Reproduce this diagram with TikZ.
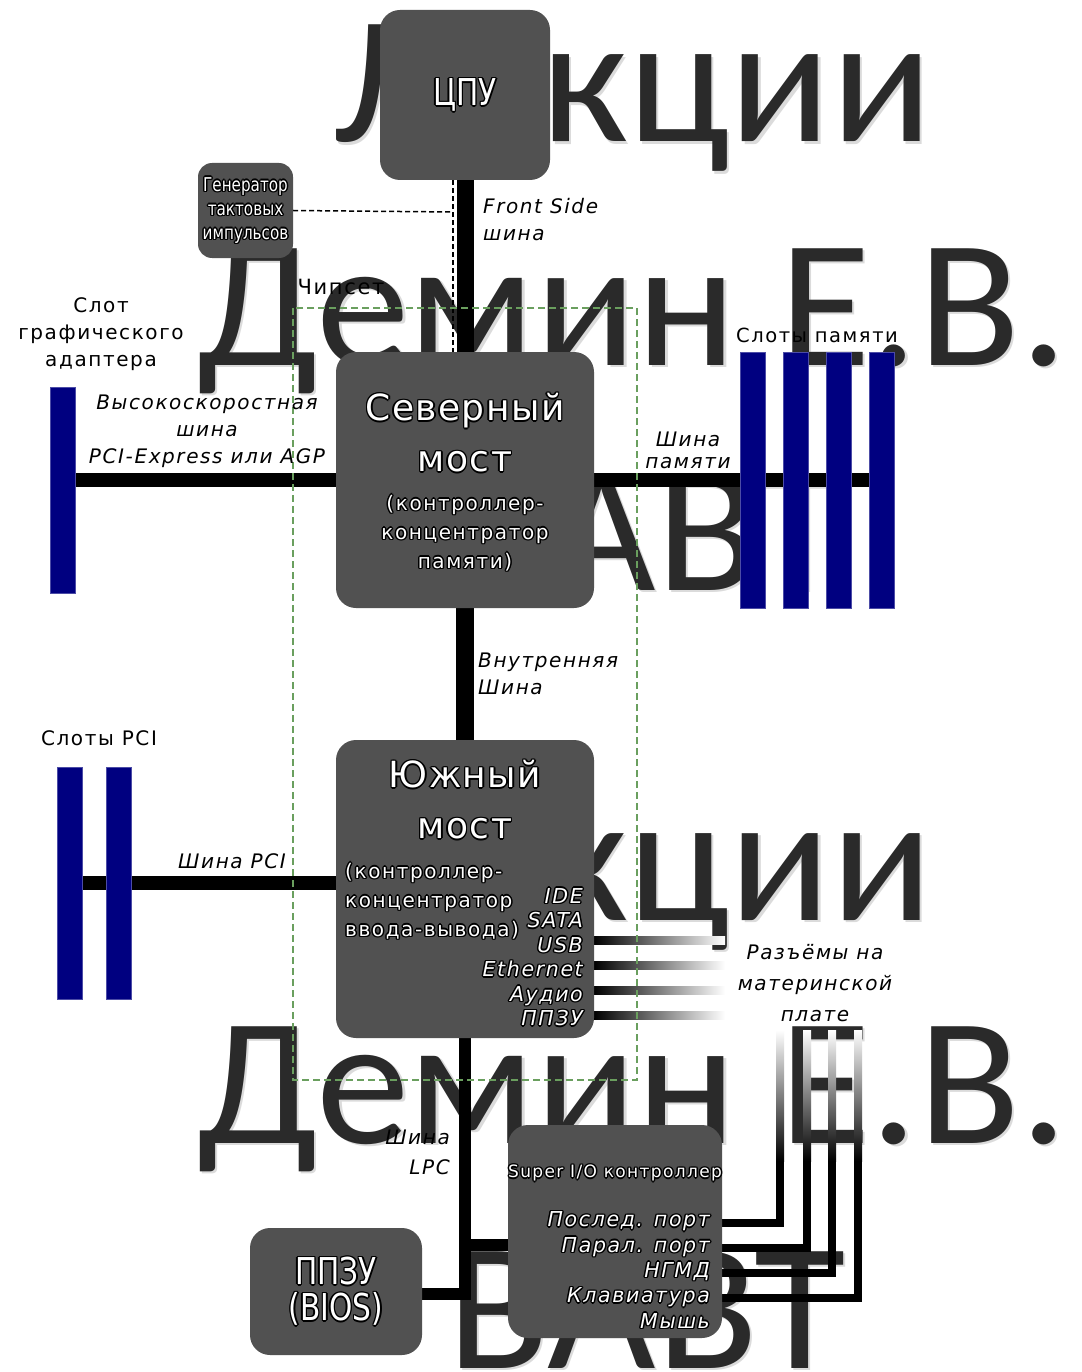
\documentclass[tikz,border=0pt]{standalone}
\usepackage{fontspec}
\setmainfont{DejaVu Sans}[LetterSpace=8]
\newfontfamily\titlefont{DejaVu Sans}[LetterSpace=4]
\newfontfamily\narrowfont{DejaVu Sans}[FakeStretch=0.8]
\newfontfamily\wmfont{Carlito}[FakeStretch=1.03]
\definecolor{boxgray}{HTML}{515151}
\definecolor{slotblue}{HTML}{000080}
\definecolor{chipgreen}{HTML}{6A9F5E}
\definecolor{wmgray}{HTML}{2A2A2A}
\pgfdeclarelayer{wmlayer}
\pgfdeclarelayer{buslayer}
\pgfsetlayers{wmlayer,buslayer,main}

% white lettering with a dark halo round it
\newcommand\halotext[3]{%
  \foreach \hx/\hy in {-1.5/0,1.5/0,0/-1.5,0/1.5,-1/-1,1/1,-1/1,1/-1}
    {\node[#2,text=black] at ([shift={(\hx pt,\hy pt)}]#1) {#3};}
  \node[#2,text=white] at (#1) {#3};}

\begin{document}
\begin{tikzpicture}[x=1pt,y=-1pt,
    chip/.style={fill=boxgray,rounded corners=20pt,inner sep=0pt},
    bus/.style={line width=14pt},
    lpc/.style={line width=12pt},
    wire/.style={line width=8pt},
    slot/.style={fill=slotblue,draw=slotblue!70,line width=0.6pt,inner sep=0pt},
    clock/.style={line width=1.5pt,dash pattern=on 5pt off 3pt},
    chipset/.style={draw=chipgreen,line width=1.5pt,dash pattern=on 7pt off 4pt},
    wm/.style={font=\wmfont\fontsize{182}{182}\selectfont,text=wmgray,anchor=base west,inner sep=0pt},
    lbl/.style={font=\fontsize{20}{27}\selectfont,align=center,inner sep=0pt},
    ilbl/.style={lbl,font=\fontsize{20}{27}\selectfont\itshape},
    title/.style={font=\titlefont\fontsize{36}{51}\selectfont,align=center,inner sep=0pt},
    sub/.style={font=\fontsize{20}{29}\selectfont,align=center,inner sep=0pt},
    ports/.style={font=\fontsize{20.5}{24.5}\selectfont\itshape,align=right,inner sep=0pt,anchor=east}]
\begin{pgfonlayer}{wmlayer}
\fill[white] (0,0) rectangle (1081,1372);
% watermark rows, repeated down the page
\foreach \wy in {0,778}
  {
    \foreach \wx/\by/\wtext in {333/142/Лекции,197/365/Демин Е.В.,447/590/ВАВТ}
      {
        \node[wm,text=black!14,xshift=2.5pt,yshift=-2.5pt] at (\wx,\by+\wy) {\wtext};
        \node[wm] at (\wx,\by+\wy) {\wtext};
      }
  }
\end{pgfonlayer}
\useasboundingbox (0,0) rectangle (1081,1372);

% slots
\node[slot,minimum width=25pt,minimum height=206pt] (agp) at (62.5,490) {};
\foreach \i/\sx in {1/752.5,2/795.5,3/839,4/882}
  \node[slot,minimum width=25pt,minimum height=256pt] (mem\i) at (\sx,480) {};
\foreach \i/\sx in {1/69.5,2/118.5}
  \node[slot,minimum width=25pt,minimum height=232pt] (pci\i) at (\sx,883) {};

\draw[chipset] (293,308) rectangle (637,1080);

% boxes
\node[chip,minimum width=170pt,minimum height=170pt] (cpu) at (465,95) {};
\node[chip,rounded corners=14pt,minimum width=95pt,minimum height=95pt] (clk) at (245.5,210.5) {};
\node[chip,minimum width=258pt,minimum height=256pt] (nb) at (465,480) {};
\node[chip,minimum width=258pt,minimum height=298pt] (sb) at (465,889) {};
\node[chip,minimum width=214pt,minimum height=213pt] (sio) at (615,1231.5) {};
\node[chip,minimum width=172pt,minimum height=127pt] (bios) at (336,1291.5) {};

% buses
\begin{pgfonlayer}{buslayer}
\draw[bus,line width=17pt] (cpu.south) -- (nb.north);
\draw[bus,line width=18pt] (nb.south) -- (sb.north);
\draw[bus] (nb.west) -- (nb.west -| agp.east);
\draw[bus] (nb.east) -- (nb.east -| mem4.center);
\draw[bus] (pci1.center) -- (pci1.center -| sb.west);
\draw[lpc] (sb.south) -- (sb.south |- 0,1294) -- (bios.east |- 0,1294);
\draw[lpc] (sb.south |- 0,1245) -- (sio.west |- 0,1245);

% clock lines
\coordinate (tap) at (453,212);
\draw[clock] (clk.east) -- (tap);
\draw[clock] (cpu.south -| tap) -- (nb.north -| tap);

% connectors on the board
\foreach \gy in {940,965,990,1015}
  \shade[left color=black,right color=white] (594,\gy-4) rectangle (725,\gy+4);
\foreach \wy/\wx in {1223/780,1248/807,1273/832,1298/858}
  {
    \draw[wire] (sio.east |- 0,\wy) -- (\wx,\wy) -- (\wx,1160);
    \shade[top color=white,bottom color=black] (\wx-4,1030) rectangle (\wx+4,1161);
  }
\end{pgfonlayer}

% box texts
\halotext{cpu.center}{font=\narrowfont\fontsize{37}{37}\selectfont,inner sep=0pt}{ЦПУ}
\halotext{clk.center}{font=\narrowfont\fontsize{19}{24}\selectfont,align=center,inner sep=0pt}{Генератор\\тактовых\\импульсов}
\halotext{465,433}{title}{Северный\\мост}
\halotext{465,533}{sub}{(контроллер-\\концентратор\\памяти)}
\halotext{465,800}{title}{Южный\\мост}
\halotext{345,901}{sub,align=left,anchor=west}{(контроллер-\\концентратор\\ввода-вывода)}
\halotext{583,957}{ports}{IDE\\SATA\\USB\\Ethernet\\Аудио\\ППЗУ}
\halotext{615,1173}{font=\fontsize{17}{17}\selectfont,inner sep=0pt}{Super I/O контроллер}
\halotext{710,1270}{ports,font=\fontsize{20.5}{25.3}\selectfont\itshape}{Послед. порт\\Парал. порт\\НГМД\\Клавиатура\\Мышь}
\halotext{bios.center}{font=\narrowfont\fontsize{37}{36}\selectfont,align=center,inner sep=0pt}{ППЗУ\\(BIOS)}

% labels
\node[ilbl,align=left,anchor=west] (fsb) at (483,220) {Front Side\\шина};
\node[lbl,font=\fontsize{21}{21}\selectfont] (chipname) at (341,287) {Чипсет};
\node[lbl] (agpname) at (101,334) {Слот\\графического\\адаптера};
\node[ilbl] (agpbus) at (207,431) {Высокоскоростная\\шина\\PCI-Express или AGP};
\node[lbl,font=\fontsize{19.5}{19.5}\selectfont] (memname) at (817,335) {Слоты памяти};
\node[ilbl,font=\fontsize{20}{22}\selectfont\itshape] (membus) at (688,450) {Шина\\памяти};
\node[ilbl,align=left,anchor=west] (intbus) at (478,674) {Внутренняя\\Шина};
\node[lbl] (pciname) at (99,738) {Слоты PCI};
\node[ilbl] (pcibus) at (232,861) {Шина PCI};
\node[ilbl,font=\fontsize{20}{31}\selectfont\itshape] (conn) at (815,983) {Разъёмы на\\материнской\\плате};
\node[ilbl,align=right,anchor=east,font=\fontsize{20}{30}\selectfont\itshape] (lpcbus) at (450,1152) {Шина\\LPC};
\end{tikzpicture}
\end{document}
